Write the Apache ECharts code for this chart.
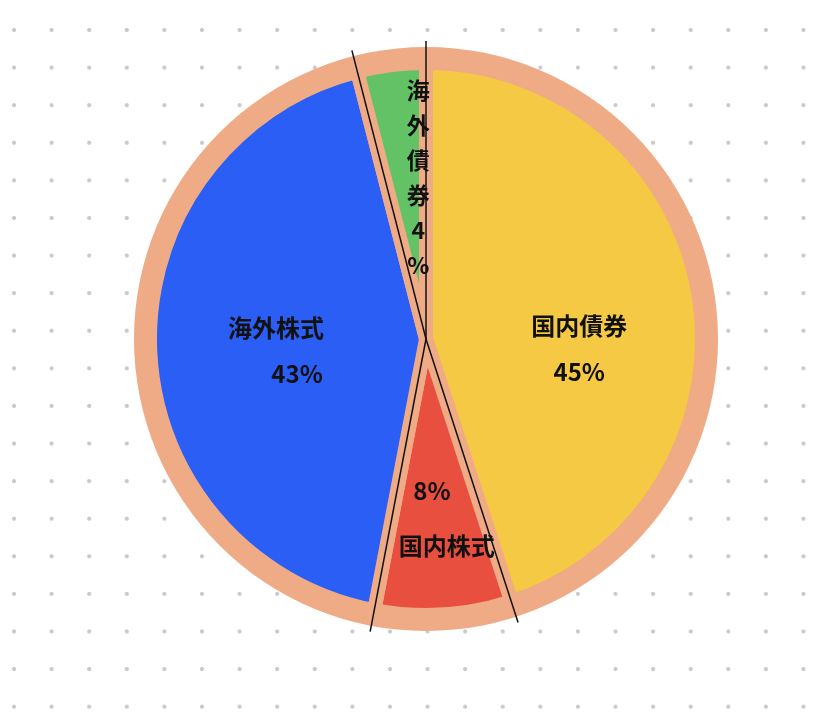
<!DOCTYPE html>
<html>
<head>
<meta charset="utf-8">
<style>
  html, body { margin: 0; padding: 0; }
  body {
    background-color: #ffffff;
    background-image: radial-gradient(circle, #c9c9c9 1.6px, rgba(255,255,255,0) 2.4px);
    background-size: 37.6px 37.6px;
    background-position: -4.8px 11.2px;
  }
  #main { width: 815px; height: 716px; }
</style>
<script src="https://cdn.jsdelivr.net/npm/echarts@6/dist/echarts.min.js"></script>
</head>
<body>
<div id="main"></div>
<script>
// 資産配分データ
var categories = ['国内債券', '国内株式', '海外株式', '海外債券'];
var percents = [45, 8, 43, 4];
var colors = ['#F5C944', '#E94F3F', '#2B5EF4', '#63C265'];

var ringColor = '#EFAB86';
var center = [426, 339];
var outerR = 292;
var sliceR = 276;
var lineR = 298;
var FONT = '"Noto Sans CJK JP", sans-serif';

var chart = echarts.init(document.getElementById('main'));

// ラベル（表示形式はスライスごと）
function labelText(i) {
  var name = categories[i], pct = percents[i] + '%';
  if (i === 0) return '{n|' + name + '}\n{n|' + pct + '}';
  if (i === 1) return '{p1|' + pct + '}\n{n2|' + name + '}';
  if (i === 2) return '{n|' + name + '}\n{p2|' + pct + '}';
  // 縦書き
  return (name + percents[i] + '%').split('').map(function(c) { return '{v|' + c + '}'; }).join('\n');
}

var nudges = [[14, 32], [12, 39], [-9, 7], [10, -21]];

var pieData = [];
for (var i = 0; i < categories.length; i++) {
  pieData.push({
    name: categories[i],
    value: percents[i],
    itemStyle: { color: colors[i] },
    label: { formatter: labelText(i) }
  });
}

// 区切り線（データの累積角度から）
var total = percents.reduce(function(a, b) { return a + b; }, 0);
var lines = [];
var cum = 0;
for (var j = 0; j < percents.length; j++) {
  var ang = cum / total * Math.PI * 2;
  lines.push({
    type: 'line',
    z: 100,
    silent: true,
    shape: {
      x1: center[0], y1: center[1],
      x2: center[0] + lineR * Math.sin(ang),
      y2: center[1] - lineR * Math.cos(ang)
    },
    style: { stroke: '#111', lineWidth: 1.5 }
  });
  cum += percents[j];
}

function txt(extra) {
  var s = { fontSize: 24, fontWeight: 'bold', color: '#111', lineHeight: 46, fontFamily: FONT };
  for (var k in extra) s[k] = extra[k];
  return s;
}

var option = {
  backgroundColor: 'transparent',
  animation: false,
  textStyle: { fontFamily: FONT },
  graphic: lines,
  series: [
    {
      type: 'pie',
      silent: true,
      center: center,
      radius: outerR,
      label: { show: false },
      labelLine: { show: false },
      itemStyle: { color: ringColor },
      data: [{ value: 1, name: 'ring' }]
    },
    {
      type: 'pie',
      silent: true,
      center: center,
      radius: sliceR,
      startAngle: 90,
      clockwise: true,
      itemStyle: { borderColor: ringColor, borderWidth: 14 },
      label: {
        show: true,
        position: 'inside',
        color: '#111',
        fontFamily: FONT,
        rich: {
          n: txt({}),
          n2: txt({ lineHeight: 55 }),
          p1: txt({ lineHeight: 55, padding: [0, 30, 0, 0] }),
          p2: txt({ padding: [0, 0, 0, 42] }),
          v: txt({ lineHeight: 35, fontSize: 23 })
        }
      },
      labelLine: { show: false },
      labelLayout: function(params) {
        var d = nudges[params.dataIndex];
        return { dx: d[0], dy: d[1] };
      },
      data: pieData
    }
  ]
};

chart.setOption(option);
</script>
</body>
</html>
